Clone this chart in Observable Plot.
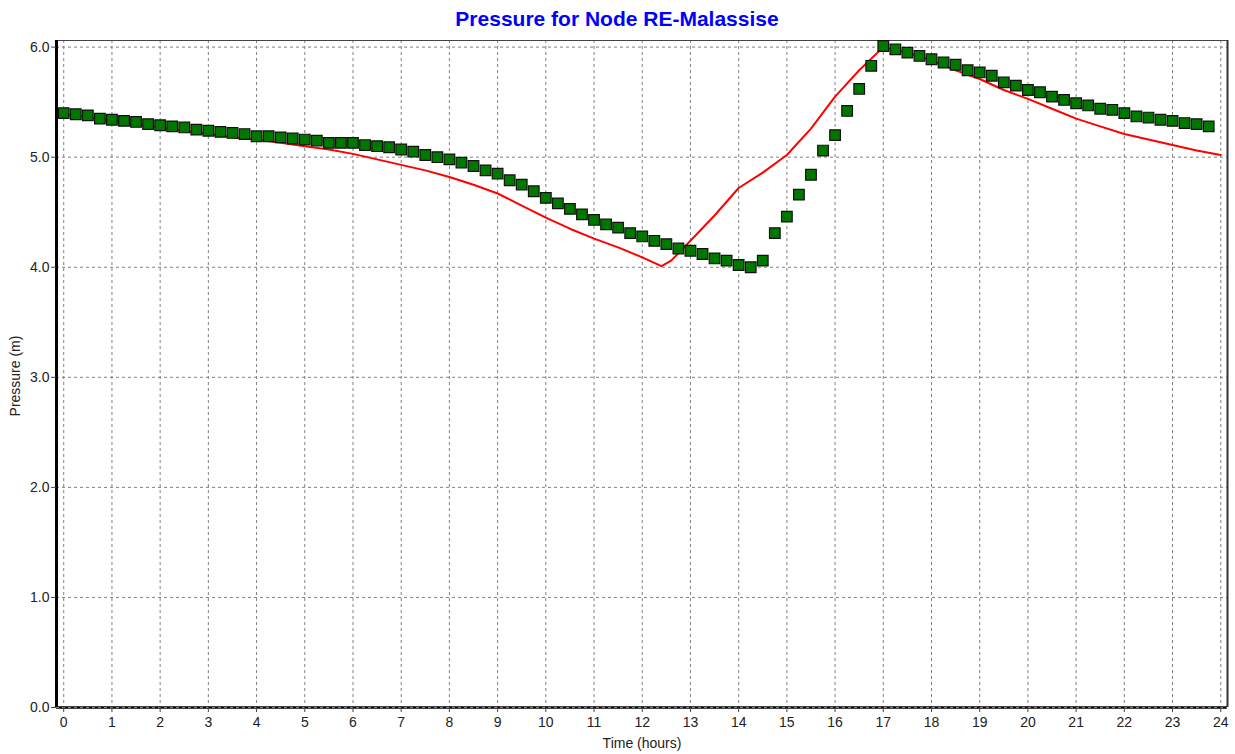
<!DOCTYPE html>
<html>
<head>
<meta charset="utf-8">
<script src="https://cdn.jsdelivr.net/npm/d3@7"></script>
<script src="https://cdn.jsdelivr.net/npm/@observablehq/plot@0.6"></script>
<style>
  html, body { margin: 0; padding: 0; background: #fff; }
  #chart svg { display: block; }
</style>
</head>
<body>
<div id="chart"></div>
<script>
const title = "Pressure for Node RE-Malassise";
const xLabel = "Time (hours)";
const yLabel = "Pressure (m)";

const xTicks = d3.range(0, 25);          // 0..24 hours
const yTicks = [0, 1, 2, 3, 4, 5, 6];

// Observed pressure (green squares), every 15 minutes from 0 to 23.75 h
const observedTimes = d3.range(0, 96).map(i => i / 4);
const observedValues = [
  5.40, 5.39, 5.38, 5.35,
  5.34, 5.33, 5.32, 5.30,
  5.29, 5.28, 5.27, 5.25,
  5.24, 5.23, 5.22, 5.21,
  5.19, 5.19, 5.18, 5.17,
  5.16, 5.15, 5.13, 5.13,
  5.13, 5.11, 5.10, 5.09,
  5.07, 5.05, 5.02, 5.00,
  4.98, 4.95, 4.92, 4.88,
  4.85, 4.79, 4.75, 4.69,
  4.63, 4.58, 4.53, 4.48,
  4.43, 4.39, 4.36, 4.31,
  4.28, 4.24, 4.21, 4.17,
  4.15, 4.12, 4.08, 4.06,
  4.02, 4.00, 4.06, 4.31,
  4.46, 4.66, 4.84, 5.06,
  5.20, 5.42, 5.62, 5.83,
  6.01, 5.98, 5.95, 5.92,
  5.89, 5.86, 5.84, 5.79,
  5.77, 5.74, 5.68, 5.65,
  5.61, 5.59, 5.55, 5.52,
  5.49, 5.47, 5.44, 5.43,
  5.40, 5.37, 5.36, 5.34,
  5.33, 5.31, 5.30, 5.28
];

// Simulated pressure (red line)
const simTimes = [
  0, 0.5, 1, 1.5, 2, 2.5, 3, 3.5, 4, 4.5, 5, 5.5, 6, 6.5, 7, 7.5, 8, 8.5, 9, 9.5,
  10, 10.5, 11, 11.5, 12, 12.25, 12.4, 12.6, 13, 13.5, 14, 14.5, 15, 15.5, 16, 16.5,
  17, 17.5, 18, 18.5, 19, 19.5, 20, 20.5, 21, 21.5, 22, 22.5, 23, 23.5, 24
];
const simValues = [
  5.39, 5.36, 5.33, 5.30, 5.27, 5.24, 5.21, 5.18, 5.16, 5.13, 5.10, 5.07, 5.03, 4.98, 4.93, 4.88, 4.82, 4.75, 4.67, 4.56,
  4.45, 4.35, 4.26, 4.18, 4.09, 4.04, 4.01, 4.06, 4.24, 4.47, 4.72, 4.86, 5.02, 5.26, 5.55, 5.79,
  6.00, 5.95, 5.88, 5.79, 5.71, 5.61, 5.53, 5.44, 5.35, 5.28, 5.21, 5.16, 5.11, 5.06, 5.02
];

const xDomain = [-0.15, 24.14];
const yDomain = [0, 6.06];

const observed = observedTimes.map((t, i) => ({t, v: observedValues[i]}));
const simulated = simTimes.map((t, i) => ({t, v: simValues[i]}));

const font = "'Liberation Sans', Arial, sans-serif";

const chart = Plot.plot({
  width: 1235,
  height: 754,
  marginLeft: 56,
  marginRight: 8,
  marginTop: 40,
  marginBottom: 47,
  style: {fontFamily: font, fontSize: "14px", color: "#222", background: "#fff", overflow: "visible"},
  x: {domain: xDomain},
  y: {domain: yDomain},
  marks: [
    // grid
    Plot.ruleX(xTicks, {stroke: "#808080", strokeDasharray: "3,3", strokeWidth: 1}),
    Plot.ruleY(yTicks, {stroke: "#808080", strokeDasharray: "3,3", strokeWidth: 1}),
    // frame: top & right thin, left & bottom thick
    Plot.ruleY([yDomain[1]], {stroke: "#444", strokeWidth: 1}),
    Plot.ruleX([xDomain[1]], {stroke: "#333", strokeWidth: 2}),
    Plot.ruleX([xDomain[0]], {stroke: "#000", strokeWidth: 3}),
    Plot.ruleY([yDomain[0]], {stroke: "#000", strokeWidth: 2.5}),
    Plot.ruleY([yDomain[0]], {stroke: "#888", strokeWidth: 1, strokeDasharray: "3,3"}),
    // axes
    Plot.axisX({ticks: xTicks, tickSize: 5, tickPadding: 5, tickFormat: d => String(d), label: null, fontSize: 14, stroke: "#444"}),
    Plot.axisY({ticks: yTicks, tickSize: 5, tickPadding: 2, tickFormat: d => d.toFixed(1), label: null, fontSize: 14, stroke: "#444"}),
    // data
    Plot.line(simulated, {x: "t", y: "v", stroke: "#ff0000", strokeWidth: 2}),
    Plot.dot(observed, {x: "t", y: "v", symbol: "square", r: 6, fill: "#007800", stroke: "#111", strokeWidth: 1.2}),
    // labels
    Plot.text([title], {frameAnchor: "top", lineAnchor: "middle", dx: -25, dy: -21, fontSize: 21, fontWeight: "bold", fill: "#0000ff", fontFamily: font}),
    Plot.text([xLabel], {frameAnchor: "bottom", lineAnchor: "middle", dy: 36, fontSize: 14, fill: "#222", fontFamily: font}),
    Plot.text([yLabel], {frameAnchor: "left", textAnchor: "middle", lineAnchor: "middle", dx: -41, dy: 2, rotate: -90, fontSize: 14, fill: "#222", fontFamily: font})
  ]
});

document.getElementById("chart").appendChild(chart);
</script>
</body>
</html>
